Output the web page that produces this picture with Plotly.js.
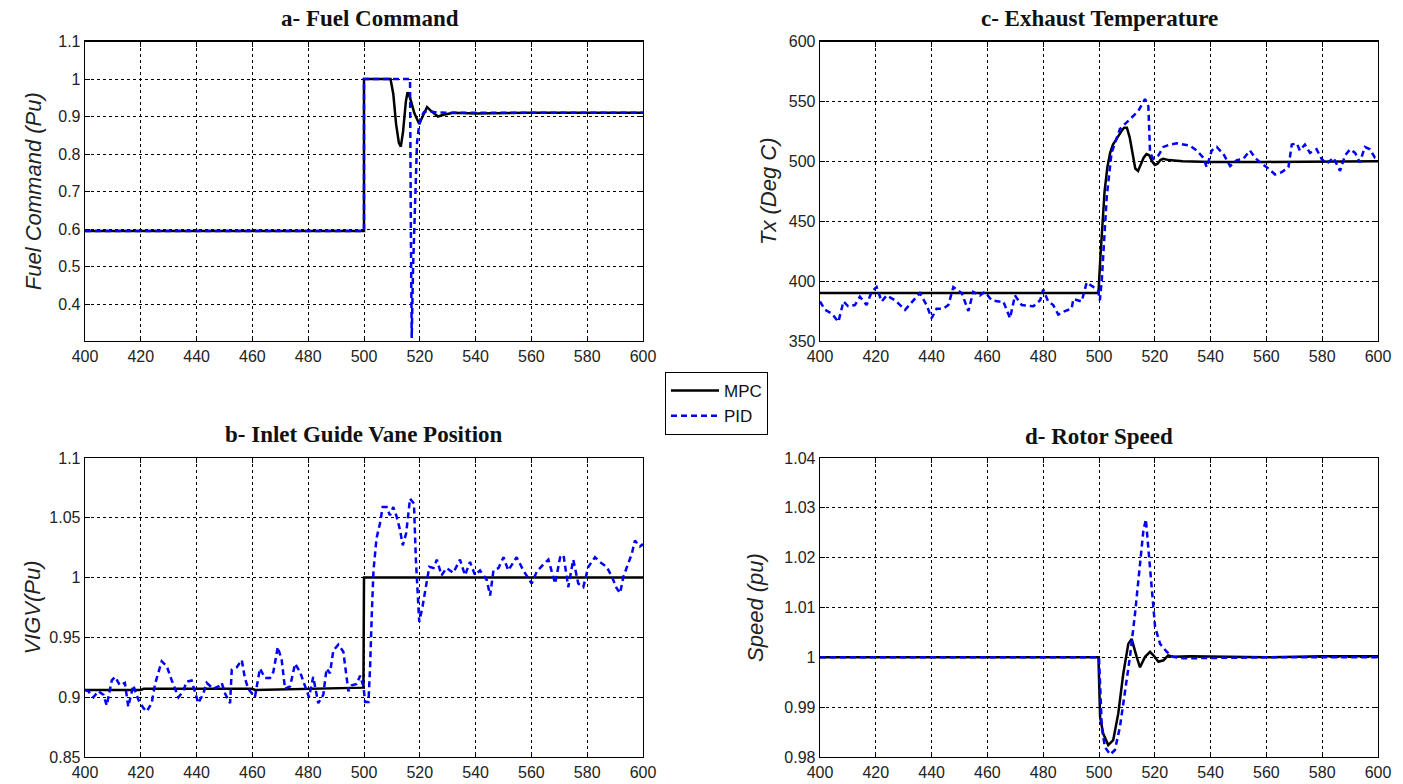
<!DOCTYPE html>
<html>
<head>
<meta charset="utf-8">
<script src="https://cdn.plot.ly/plotly-3.0.1.min.js"></script>
<style>html,body{margin:0;padding:0;background:#fff;}#chart{width:1403px;height:784px;}</style>
</head>
<body>
<div id="chart"></div>
<script>
// ---------- Data ----------
const xTicks = [400, 420, 440, 460, 480, 500, 520, 540, 560, 580, 600];

// a- Fuel Command
const fuelMpcT = [400, 500, 500, 509.5, 510.5, 511.5, 512.5, 513.2, 514, 515, 515.6, 516.5, 518, 519.8, 521, 522.6, 524, 526.5, 528.5, 532, 540, 560, 600];
const fuelMpcV = [0.595, 0.595, 1.0, 1.0, 0.96, 0.88, 0.83, 0.82, 0.86, 0.94, 0.965, 0.95, 0.91, 0.88, 0.90, 0.925, 0.915, 0.90, 0.905, 0.91, 0.908, 0.91, 0.91];
const fuelPidT = [400, 500, 500, 516.5, 516.8, 517.1, 517.6, 518.3, 519, 519.8, 520.5, 521.5, 523, 525, 530, 560, 600];
const fuelPidV = [0.595, 0.595, 1.0, 1.0, 0.6, 0.31, 0.5, 0.7, 0.83, 0.88, 0.9, 0.912, 0.915, 0.912, 0.91, 0.91, 0.91];
const fuelTicks = [0.4, 0.5, 0.6, 0.7, 0.8, 0.9, 1, 1.1];
const fuelTickText = ["0.4", "0.5", "0.6", "0.7", "0.8", "0.9", "1", "1.1"];

// c- Exhaust Temperature
const txMpcT = [400, 499.8, 500.5, 501, 502, 503, 504, 505, 506, 507, 508, 509, 510, 511, 512, 513, 514, 515, 516, 517, 518, 519, 520, 521, 522, 523, 525, 530, 540, 560, 580, 600];
const txMpcV = [390, 390, 420, 440, 475, 495, 507, 514, 518, 522, 525, 528, 528, 520, 505, 494, 492, 497, 503, 506, 505, 500, 497, 498, 501, 502, 501, 500, 499.5, 499.5, 500, 500];
const txPidT = [400, 401.8, 404.2, 406.6, 408.4, 410.1, 412.5, 414.3, 416.7, 418.5, 420.3, 422.1, 423.9, 426.9, 430.5, 433.4, 435.8, 438.2, 440, 441.8, 444.2, 446, 447.8, 450.8, 453.2, 454.9, 457.3, 459.1, 461.5, 463.9, 465.7, 468.1, 469.9, 472.3, 476.5, 478.9, 480, 481.8, 483.6, 485.4, 487.8, 490.2, 490.8, 493.8, 495, 495.6, 498, 499.7, 500.3, 501, 502.8, 504.5, 507.5, 511.1, 514.1, 516.5, 517.7, 518.3, 519.5, 521.3, 523.1, 525.4, 527.9, 530.2, 532.6, 535, 537.4, 538.6, 540.4, 542.2, 544.6, 547, 549.4, 551.7, 554.1, 555.9, 558.3, 560.7, 563.1, 565.5, 567.9, 569.1, 570.9, 572, 573.8, 575.6, 578, 579.8, 581.6, 584, 586.4, 588.2, 590, 591.8, 593.5, 595.3, 597.1, 598.9, 600];
const txPidV = [383, 376, 373, 366, 383, 379, 380, 387, 380, 391, 395, 383, 388, 384, 376, 384, 390, 380, 369, 377, 377, 380, 395, 390, 375, 391, 388, 391, 384, 383, 383, 369, 388, 380, 379, 384, 393, 383, 380, 372, 375, 377, 385, 383, 393, 399, 395, 392, 384, 401, 471, 507, 527, 535, 542, 552, 546, 507, 502, 505, 512, 514, 515, 514, 513, 509, 503, 495, 509, 512, 506, 496, 501, 502, 509, 503, 498, 494, 489, 491, 495, 514, 515, 509, 514, 507, 510, 502, 498, 503, 492, 505, 510, 507, 499, 512, 510, 503, 502];
const txTicks = [350, 400, 450, 500, 550, 600];

// b- Inlet Guide Vane Position
const igvMpcT = [400, 420, 421, 460, 461, 499.8, 500, 520, 540, 560, 600];
const igvMpcV = [0.906, 0.906, 0.907, 0.907, 0.906, 0.908, 1.0, 1.0, 1.0, 1.0, 1.0];
const igvPidT = [400, 401.2, 403, 404.8, 406.6, 407.8, 409.6, 410.8, 412.5, 414.3, 415.5, 417.3, 419.1, 420.9, 422.1, 423.9, 425.1, 427.5, 429.3, 431.1, 433.5, 435.2, 436.4, 438.2, 440.6, 442.4, 443.6, 446, 447.8, 449, 450.2, 452, 452.6, 454.4, 456.2, 457.3, 458.5, 459.7, 460.9, 462.7, 464.5, 466.3, 467.5, 469.1, 470.5, 471.7, 473.5, 475.3, 477.1, 478.9, 480.3, 481.8, 483.6, 485.4, 486.6, 487.8, 489, 490.8, 492.6, 494.4, 495.6, 497.4, 498.6, 499.8, 500.4, 501.6, 502.2, 502.8, 503.4, 504.5, 505.7, 506.7, 508.1, 509.3, 510.5, 511.7, 512.9, 513.9, 515.1, 516.5, 517.9, 518.6, 519.8, 521, 522.2, 523.4, 524.9, 526.1, 527.8, 529.6, 532, 534.4, 536.2, 538, 539.8, 541.6, 544, 545.2, 546.4, 548.2, 550, 551.7, 554.7, 557.1, 560.1, 561.9, 564.3, 566.1, 568.5, 570.3, 571.5, 573.2, 575, 576.8, 578.6, 580.4, 582.8, 584.6, 587, 588.8, 590.6, 591.8, 593, 594.2, 596, 597.1, 598.9, 600];
const igvPidV = [0.906, 0.905, 0.900, 0.905, 0.902, 0.893, 0.914, 0.917, 0.910, 0.912, 0.892, 0.910, 0.898, 0.891, 0.888, 0.895, 0.911, 0.930, 0.926, 0.914, 0.900, 0.905, 0.913, 0.914, 0.895, 0.903, 0.912, 0.907, 0.909, 0.912, 0.903, 0.895, 0.923, 0.925, 0.931, 0.916, 0.907, 0.903, 0.900, 0.924, 0.916, 0.916, 0.921, 0.942, 0.931, 0.907, 0.909, 0.928, 0.921, 0.909, 0.900, 0.917, 0.895, 0.902, 0.924, 0.920, 0.939, 0.944, 0.938, 0.905, 0.910, 0.911, 0.918, 0.909, 0.896, 0.896, 0.926, 0.970, 1.006, 1.033, 1.045, 1.059, 1.059, 1.052, 1.059, 1.051, 1.040, 1.027, 1.037, 1.066, 1.062, 1.015, 0.963, 0.976, 0.992, 1.009, 1.008, 1.015, 1.002, 1.008, 1.004, 1.015, 1.002, 1.013, 1.002, 1.006, 0.998, 0.985, 1.006, 1.008, 1.017, 1.006, 1.017, 1.006, 0.995, 1.005, 1.011, 1.015, 0.995, 1.017, 1.019, 0.992, 1.015, 0.995, 0.992, 1.009, 1.017, 1.013, 1.009, 1.001, 0.991, 0.987, 1.001, 1.009, 1.020, 1.031, 1.026, 1.028];
const igvTicks = [0.85, 0.9, 0.95, 1, 1.05, 1.1];
const igvTickText = ["0.85", "0.9", "0.95", "1", "1.05", "1.1"];

// d- Rotor Speed
const spdMpcT = [400, 499.8, 500.4, 501.5, 503.3, 505.1, 506.9, 508.7, 510.5, 511.7, 513.5, 514.7, 516.5, 518.3, 519.5, 521.3, 523.1, 524.8, 526.6, 532.6, 560, 580, 600];
const spdMpcV = [1.0, 1.0, 0.988, 0.9847, 0.9824, 0.9834, 0.9887, 0.9967, 1.0027, 1.0037, 1.0001, 0.998, 1.0001, 1.0011, 1.0004, 0.9991, 0.9994, 1.0004, 1.0001, 1.0002, 1.0, 1.0002, 1.0002];
const spdPidT = [400, 500, 501, 502.1, 504, 505.7, 507.5, 509.3, 511.1, 512.9, 514.7, 515.9, 516.8, 517.7, 518.9, 520.1, 521.9, 524.3, 526.6, 530.2, 560, 600];
const spdPidV = [1.0, 1.0, 0.986, 0.982, 0.9805, 0.9814, 0.986, 0.9927, 1.0001, 1.0087, 1.018, 1.0254, 1.0277, 1.0214, 1.0127, 1.0061, 1.0027, 1.0011, 1.0001, 0.9998, 1.0, 1.0];
const spdTicks = [0.98, 0.99, 1, 1.01, 1.02, 1.03, 1.04];
const spdTickText = ["0.98", "0.99", "1", "1.01", "1.02", "1.03", "1.04"];

const seriesNames = ["MPC", "PID"];
const panelTitles = ["a- Fuel Command", "c- Exhaust Temperature", "b- Inlet Guide Vane Position", "d- Rotor Speed"];
const yTitles = ["Fuel Command (Pu)", "Tx (Deg C)", "VIGV(Pu)", "Speed (pu)"];

// ---------- Styles ----------
const mpcLine = {color: "#000000", width: 2.5};
const pidLine = {color: "#0000ff", width: 2.5, dash: "6px,4px"};
const tickFont = {family: "Liberation Sans, Arial, sans-serif", size: 16, color: "#222"};
const yTitleFont = {family: "Liberation Sans, Arial, sans-serif", size: 22, color: "#222"};

function tr(x, y, name, line, xa, ya, show) {
  return {x: x, y: y, name: name, type: "scatter", mode: "lines", line: line,
          xaxis: xa, yaxis: ya, showlegend: show};
}

const data = [
  tr(fuelMpcT, fuelMpcV, seriesNames[0], mpcLine, "x", "y", true),
  tr(fuelPidT, fuelPidV, seriesNames[1], pidLine, "x", "y", true),
  tr(txMpcT, txMpcV, seriesNames[0], mpcLine, "x2", "y2", false),
  tr(txPidT, txPidV, seriesNames[1], pidLine, "x2", "y2", false),
  tr(igvMpcT, igvMpcV, seriesNames[0], mpcLine, "x3", "y3", false),
  tr(igvPidT, igvPidV, seriesNames[1], pidLine, "x3", "y3", false),
  tr(spdMpcT, spdMpcV, seriesNames[0], mpcLine, "x4", "y4", false),
  tr(spdPidT, spdPidV, seriesNames[1], pidLine, "x4", "y4", false)
];

const W = 1403, H = 784;
const leftDom = [85 / W, 643 / W];
const rightDom = [820 / W, 1378 / W];
const topDom = [(H - 341) / H, (H - 41.5) / H];
const botDom = [(H - 757) / H, (H - 458) / H];

function xax(dom, anchor) {
  return {domain: dom, anchor: anchor, range: [400, 600], tickvals: xTicks,
          showgrid: true, gridcolor: "#000", gridwidth: 1, griddash: "3px,3px",
          showline: true, linecolor: "#000", linewidth: 1.3, mirror: "ticks",
          ticks: "inside", ticklen: 5, tickcolor: "#000", tickfont: tickFont, zeroline: false};
}
function yax(dom, anchor, range, tv, tt, title, standoff) {
  const o = {domain: dom, anchor: anchor, range: range, tickvals: tv,
          showgrid: true, gridcolor: "#000", gridwidth: 1, griddash: "3px,3px",
          showline: true, linecolor: "#000", linewidth: 1.3, mirror: "ticks",
          ticks: "inside", ticklen: 5, tickcolor: "#000", tickfont: tickFont, zeroline: false,
          title: {text: "<i>" + title + "</i>", font: yTitleFont, standoff: standoff}};
  if (tt) o.ticktext = tt;
  return o;
}

const titleFont = {family: "Liberation Serif, Times New Roman, serif", size: 23, color: "#111"};
function ann(text, xc, ypx) {
  return {text: "<b>" + text + "</b>", x: xc, y: (H - ypx) / H, xref: "paper", yref: "paper",
          xanchor: "center", yanchor: "middle", showarrow: false, font: titleFont};
}

const layout = {
  width: W, height: H,
  margin: {l: 0, r: 0, t: 0, b: 0},
  paper_bgcolor: "#fff", plot_bgcolor: "#fff",
  showlegend: true,
  legend: {x: 665 / W, y: (H - 372) / H, xanchor: "left", yanchor: "top",
           bordercolor: "#000", borderwidth: 1, bgcolor: "#fff",
           font: {family: "Liberation Sans, Arial, sans-serif", size: 17, color: "#111"},
           tracegroupgap: 0, itemwidth: 48},
  xaxis: xax(leftDom, "y"),
  yaxis: yax(topDom, "x", [0.302, 1.1], fuelTicks, fuelTickText, yTitles[0], 10),
  xaxis2: xax(rightDom, "y2"),
  yaxis2: yax(topDom, "x2", [350, 600], txTicks, null, yTitles[1], 6),
  xaxis3: xax(leftDom, "y3"),
  yaxis3: yax(botDom, "x3", [0.85, 1.1], igvTicks, igvTickText, yTitles[2], 2),
  xaxis4: xax(rightDom, "y4"),
  yaxis4: yax(botDom, "x4", [0.98, 1.04], spdTicks, spdTickText, yTitles[3], 14),
  annotations: [
    ann(panelTitles[0], (85 + 643) / 2 / W + 0.004, 18),
    ann(panelTitles[1], (820 + 1378) / 2 / W, 18),
    ann(panelTitles[2], (85 + 643) / 2 / W, 434),
    ann(panelTitles[3], (820 + 1378) / 2 / W, 436)
  ]
};

Plotly.newPlot("chart", data, layout, {displayModeBar: false, staticPlot: true});
</script>
</body>
</html>
